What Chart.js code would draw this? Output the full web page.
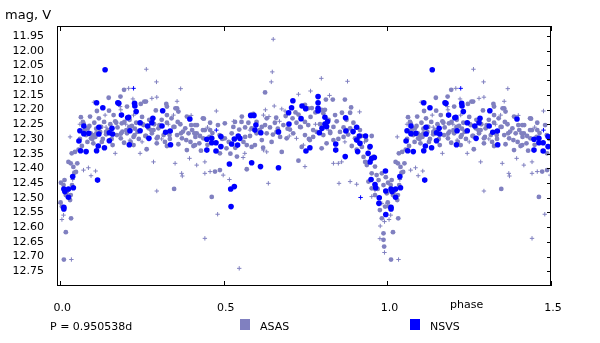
<!DOCTYPE html>
<html>
<head>
<meta charset="utf-8">
<title>Light curve</title>
<script src="https://cdn.jsdelivr.net/npm/chart.js@4.4.1/dist/chart.umd.min.js"></script>
<style>
  html, body { margin: 0; padding: 0; background: #fff; }
  #wrap { width: 600px; height: 343px; }
</style>
</head>
<body>
<div id="wrap"><canvas id="lightCurve" width="600" height="343"></canvas></div>
<script>
// folded light curve, [phase, mag V]; phases below 0.5 are repeated at phase + 1
const asasDots = [
  [0.001,12.516],[0.002,12.449],[0.005,12.530],[0.010,12.457],[0.011,12.710],[0.013,12.440],[0.017,12.491],[0.017,12.617],
  [0.020,12.480],[0.025,12.378],[0.030,12.508],[0.032,12.491],[0.032,12.383],[0.033,12.570],[0.035,12.349],[0.036,12.457],
  [0.040,12.395],[0.043,12.415],[0.045,12.344],[0.048,12.412],
  [0.052,12.383],[0.056,12.336],[0.060,12.300],[0.063,12.226],[0.066,12.324],[0.069,12.242],[0.071,12.247],[0.075,12.270],
  [0.079,12.287],[0.083,12.310],[0.084,12.264],[0.089,12.256],[0.091,12.224],[0.093,12.281],[0.094,12.298],[0.098,12.300],
  [0.099,12.287],
  [0.101,12.315],[0.104,12.245],[0.107,12.293],[0.110,12.265],[0.110,12.281],[0.112,12.205],[0.118,12.230],[0.122,12.259],
  [0.122,12.276],[0.125,12.259],[0.127,12.310],[0.130,12.300],[0.134,12.242],[0.140,12.284],[0.140,12.276],[0.145,12.270],
  [0.148,12.160],[0.149,12.204],[0.153,12.250],[0.157,12.300],[0.160,12.321],[0.163,12.219],[0.168,12.240],[0.171,12.245],
  [0.173,12.287],[0.175,12.261],[0.184,12.156],[0.185,12.298],[0.186,12.281],[0.188,12.247],[0.190,12.275],[0.195,12.133],
  [0.195,12.313],[0.196,12.242],
  [0.202,12.270],[0.204,12.281],[0.204,12.190],[0.211,12.259],[0.212,12.235],[0.215,12.310],[0.219,12.256],[0.224,12.293],
  [0.224,12.321],[0.227,12.287],[0.228,12.265],[0.232,12.245],[0.236,12.276],[0.240,12.300],[0.246,12.181],[0.250,12.225],
  [0.252,12.250],[0.255,12.253],[0.257,12.173],[0.260,12.290],[0.262,12.173],[0.262,12.290],[0.264,12.335],[0.270,12.264],
  [0.272,12.235],[0.278,12.270],[0.280,12.281],[0.285,12.270],[0.287,12.250],[0.292,12.203],[0.295,12.298],[0.295,12.315],
  [0.298,12.293],
  [0.300,12.264],[0.303,12.253],[0.310,12.235],[0.316,12.287],[0.320,12.310],[0.324,12.181],[0.326,12.190],[0.326,12.245],
  [0.326,12.219],[0.326,12.324],[0.331,12.276],[0.334,12.287],[0.335,12.300],[0.340,12.230],[0.346,12.259],[0.348,12.470],
  [0.349,12.259],[0.352,12.196],[0.357,12.287],[0.357,12.196],[0.359,12.242],[0.361,12.207],[0.361,12.318],[0.367,12.250],
  [0.369,12.281],[0.372,12.298],[0.375,12.275],[0.382,12.264],[0.385,12.304],[0.387,12.224],[0.387,12.338],[0.392,12.281],
  [0.398,12.310],
  [0.400,12.253],[0.403,12.270],[0.407,12.324],[0.410,12.281],[0.412,12.253],[0.412,12.321],[0.413,12.293],[0.417,12.281],
  [0.418,12.253],[0.425,12.315],[0.427,12.290],[0.430,12.340],[0.436,12.230],[0.436,12.270],[0.437,12.298],[0.439,12.231],
  [0.442,12.270],[0.450,12.320],[0.456,12.293],[0.458,12.245],[0.458,12.270],[0.463,12.497],[0.465,12.280],[0.473,12.411],
  [0.482,12.253],[0.487,12.287],[0.488,12.349],[0.488,12.406],[0.495,12.300],
  [0.503,12.247],[0.503,12.298],[0.508,12.332],[0.515,12.310],[0.520,12.350],[0.524,12.281],[0.529,12.259],[0.534,12.242],
  [0.535,12.330],[0.540,12.360],[0.547,12.268],[0.554,12.242],[0.555,12.224],[0.560,12.310],[0.565,12.261],[0.565,12.293],
  [0.570,12.321],[0.570,12.403],[0.575,12.245],[0.580,12.290],[0.585,12.327],[0.585,12.264],[0.590,12.215],[0.595,12.321],
  [0.600,12.242],[0.600,12.281],[0.610,12.270],[0.616,12.304],[0.616,12.259],[0.620,12.330],[0.626,12.142],[0.626,12.253],
  [0.631,12.230],[0.631,12.281],[0.641,12.261],[0.646,12.310],[0.650,12.285],[0.656,12.245],[0.660,12.228],[0.661,12.276],
  [0.665,12.265],[0.672,12.293],[0.677,12.344],[0.682,12.253],[0.689,12.222],[0.692,12.298],[0.695,12.265],
  [0.702,12.268],[0.710,12.230],[0.712,12.281],[0.719,12.210],[0.722,12.245],[0.728,12.217],[0.728,12.374],[0.733,12.259],
  [0.735,12.260],[0.738,12.327],[0.748,12.184],[0.748,12.242],[0.748,12.287],[0.758,12.196],[0.758,12.253],[0.760,12.300],
  [0.763,12.304],[0.765,12.225],[0.769,12.195],[0.773,12.270],[0.773,12.293],[0.780,12.210],[0.784,12.276],[0.794,12.250],
  [0.799,12.201],[0.799,12.332],
  [0.804,12.213],[0.804,12.287],[0.809,12.201],[0.812,12.166],[0.814,12.315],[0.820,12.235],[0.825,12.280],[0.825,12.276],
  [0.833,12.166],[0.835,12.259],[0.835,12.304],[0.840,12.219],[0.845,12.240],[0.850,12.300],[0.855,12.276],[0.861,12.211],
  [0.866,12.261],[0.866,12.293],[0.870,12.166],[0.875,12.235],[0.876,12.270],[0.880,12.285],[0.886,12.211],[0.886,12.264],
  [0.889,12.193],[0.891,12.324],[0.896,12.245],
  [0.901,12.298],[0.906,12.336],[0.910,12.300],[0.916,12.270],[0.920,12.290],[0.922,12.327],[0.927,12.361],[0.932,12.378],
  [0.935,12.304],[0.937,12.389],[0.942,12.445],[0.945,12.330],[0.952,12.290],[0.952,12.417],[0.952,12.468],[0.958,12.360],
  [0.962,12.394],[0.962,12.491],[0.967,12.423],[0.970,12.470],[0.973,12.440],[0.977,12.542],[0.983,12.417],[0.983,12.570],
  [0.988,12.457],[0.988,12.621],[0.988,12.643],[0.990,12.666],[0.993,12.530],[0.995,12.430],[0.998,12.485]
];

const asasCrosses = [
  [0.000,12.519],[0.005,12.574],[0.010,12.559],[0.030,12.293],[0.034,12.710],[0.038,12.438],[0.060,12.250],[0.071,12.406],
  [0.086,12.398],[0.094,12.425],[0.103,12.175],[0.108,12.409],[0.137,12.219],[0.140,12.260],[0.168,12.349],[0.183,12.190],
  [0.183,12.287],[0.185,12.201],[0.200,12.250],[0.209,12.128],[0.213,12.304],[0.222,12.164],[0.224,12.219],[0.244,12.349],
  [0.250,12.310],[0.263,12.063],[0.280,12.162],[0.285,12.378],[0.294,12.106],[0.295,12.158],[0.295,12.477],[0.310,12.300],
  [0.330,12.250],[0.346,12.219],[0.351,12.383],[0.357,12.172],[0.368,12.129],[0.371,12.417],[0.373,12.426],[0.395,12.366],
  [0.400,12.220],[0.417,12.389],[0.442,12.378],[0.442,12.417],[0.442,12.638],[0.450,12.260],[0.458,12.411],[0.477,12.205],
  [0.481,12.556],[0.498,12.423],[0.517,12.438],[0.530,12.240],[0.547,12.740],[0.559,12.363],[0.564,12.349],[0.580,12.270],
  [0.621,12.219],[0.621,12.338],[0.627,12.201],[0.631,12.344],[0.636,12.451],[0.638,12.224],[0.645,12.106],[0.648,12.072],
  [0.651,11.961],[0.654,12.188],[0.670,12.240],[0.677,12.198],[0.687,12.205],[0.700,12.290],[0.722,12.298],[0.728,12.148],
  [0.743,12.321],[0.748,12.394],[0.765,12.137],[0.780,12.250],[0.798,12.094],[0.820,12.270],[0.823,12.152],[0.835,12.383],
  [0.850,12.383],[0.852,12.451],[0.860,12.378],[0.870,12.310],[0.878,12.104],[0.886,12.445],[0.906,12.454],[0.915,12.208],
  [0.930,12.310],[0.952,12.496],[0.962,12.474],[0.977,12.639],[0.978,12.596],[0.983,12.519],[0.991,12.581],[0.991,12.686]
];

const nsvsDots = [
  [0.011,12.470],[0.011,12.532],[0.011,12.538],[0.014,12.479],[0.025,12.470],[0.025,12.498],[0.038,12.428],[0.040,12.466],
  [0.057,12.307],[0.060,12.272],[0.062,12.340],[0.072,12.282],[0.072,12.256],[0.079,12.343],[0.087,12.281],[0.111,12.340],
  [0.111,12.177],[0.114,12.440],[0.116,12.324],[0.118,12.283],[0.118,12.260],[0.130,12.194],[0.135,12.330],[0.137,12.065],
  [0.150,12.306],[0.150,12.279],[0.158,12.264],[0.160,12.283],[0.176,12.177],[0.179,12.179],[0.187,12.219],[0.206,12.228],
  [0.209,12.226],[0.211,12.320],[0.213,12.272],[0.227,12.179],[0.228,12.188],[0.232,12.207],[0.244,12.245],[0.244,12.272],
  [0.267,12.256],[0.271,12.298],[0.280,12.245],[0.283,12.230],[0.311,12.256],[0.313,12.204],[0.322,12.277],[0.336,12.273],
  [0.337,12.320],[0.396,12.232],[0.448,12.301],[0.448,12.338],[0.463,12.298],[0.463,12.313],[0.476,12.313],[0.476,12.341],
  [0.491,12.292],[0.491,12.326],
  [0.517,12.385],[0.521,12.470],[0.522,12.530],[0.524,12.317],[0.532,12.300],[0.532,12.462],[0.542,12.321],[0.544,12.290],
  [0.549,12.298],[0.582,12.220],[0.585,12.381],[0.592,12.220],[0.595,12.270],[0.598,12.253],[0.612,12.394],[0.613,12.279],
  [0.667,12.276],[0.667,12.398],[0.698,12.211],[0.699,12.249],[0.707,12.194],[0.711,12.170],[0.736,12.231],[0.739,12.188],
  [0.750,12.197],[0.751,12.341],[0.763,12.330],[0.788,12.156],[0.788,12.177],[0.788,12.196],[0.788,12.205],[0.792,12.279],
  [0.800,12.264],[0.809,12.226],[0.809,12.249],[0.814,12.258],[0.817,12.241],[0.842,12.317],[0.842,12.338],[0.871,12.360],
  [0.872,12.228],[0.873,12.273],[0.895,12.275],[0.906,12.260],[0.906,12.304],[0.909,12.343],[0.914,12.290],[0.916,12.315],
  [0.933,12.290],[0.941,12.349],[0.947,12.326],[0.947,12.378],[0.950,12.438],[0.952,12.366],[0.960,12.363],[0.962,12.455],
  [0.964,12.466],[0.974,12.519],[0.975,12.500],[0.994,12.409],[0.995,12.477],[0.995,12.557]
];

const nsvsCrosses = [[0.224,12.128],[0.477,12.270],[0.918,12.499]];

const phaseTicks = [0, 0.5, 1, 1.5];
const magTicks = [11.95, 12.00, 12.05, 12.10, 12.15, 12.20, 12.25, 12.30, 12.35, 12.40,
                  12.45, 12.50, 12.55, 12.60, 12.65, 12.70, 12.75];

const ASAS_COLOR = '#8080c0';
const NSVS_COLOR = '#0000ff';
const FONT = '"DejaVu Sans", Verdana, sans-serif';

// second cycle: repeat the first half at phase + 1
function fold(rows) {
  const pts = [];
  rows.forEach(([p, m]) => {
    pts.push({ x: p, y: m });
    if (p < 0.5) pts.push({ x: p + 1, y: m });
  });
  return pts;
}

// box, inward ticks, captions and legend
const framePlugin = {
  id: 'frame',
  afterDatasetsDraw(chart) {
    const { ctx, chartArea: a, scales: { x, y } } = chart;
    ctx.save();
    ctx.strokeStyle = '#000';
    ctx.lineWidth = 1;
    ctx.strokeRect(a.left + 0.5, a.top + 0.5, a.right - a.left - 1, a.bottom - a.top - 1);
    ctx.beginPath();
    phaseTicks.forEach(v => {
      const px = Math.round(x.getPixelForValue(v)) + 0.5;
      ctx.moveTo(px, a.bottom); ctx.lineTo(px, a.bottom - 5);
      ctx.moveTo(px, a.top); ctx.lineTo(px, a.top + 5);
    });
    magTicks.forEach(v => {
      const py = Math.round(y.getPixelForValue(v)) + 0.5;
      ctx.moveTo(a.right, py); ctx.lineTo(a.right - 4, py);
    });
    ctx.stroke();

    ctx.fillStyle = '#000';
    ctx.textBaseline = 'middle';
    ctx.font = '13px ' + FONT;
    ctx.fillText('mag, V', 5, 16);
    ctx.font = '11px ' + FONT;
    ctx.fillText('phase', 450, 305);
    ctx.fillText('P = 0.950538d', 50, 327);

    ctx.fillStyle = ASAS_COLOR;
    ctx.fillRect(240, 319, 10, 11);
    ctx.fillStyle = NSVS_COLOR;
    ctx.fillRect(410, 319, 10, 11);
    ctx.fillStyle = '#000';
    ctx.fillText('ASAS', 260, 327);
    ctx.fillText('NSVS', 430, 327);
    ctx.restore();
  }
};

new Chart(document.getElementById('lightCurve'), {
  type: 'scatter',
  data: {
    datasets: [
      { label: 'NSVS', data: fold(nsvsDots), pointStyle: 'circle', pointRadius: 2.8,
        backgroundColor: NSVS_COLOR, borderWidth: 0 },
      { label: 'NSVS', data: fold(nsvsCrosses), pointStyle: 'cross', pointRadius: 2.2,
        borderColor: NSVS_COLOR, borderWidth: 1 },
      { label: 'ASAS', data: fold(asasDots), pointStyle: 'circle', pointRadius: 2.4,
        backgroundColor: ASAS_COLOR, borderWidth: 0 },
      { label: 'ASAS', data: fold(asasCrosses), pointStyle: 'cross', pointRadius: 2.2,
        borderColor: ASAS_COLOR, borderWidth: 1 }
    ]
  },
  options: {
    responsive: false,
    animation: false,
    events: [],
    layout: { padding: { left: 0, top: 26, right: 49, bottom: 0 } },
    plugins: { legend: { display: false }, tooltip: { enabled: false } },
    scales: {
      x: {
        type: 'linear',
        min: -0.01,
        max: 1.5,
        grid: { display: false },
        border: { display: false },
        afterBuildTicks: s => { s.ticks = phaseTicks.map(v => ({ value: v })); },
        afterFit: s => { s.height = 57; },
        ticks: {
          color: '#000',
          font: { family: FONT, size: 11 },
          padding: 8,
          labelOffset: 2,
          maxRotation: 0,
          callback: v => v.toFixed(1)
        }
      },
      y: {
        type: 'linear',
        reverse: true,
        min: 11.916,
        max: 12.80,
        grid: { display: false },
        border: { display: false },
        afterBuildTicks: s => { s.ticks = magTicks.map(v => ({ value: v })); },
        afterFit: s => { s.width = 57; },
        ticks: {
          color: '#000',
          font: { family: FONT, size: 11 },
          padding: 5,
          callback: v => v.toFixed(2)
        }
      }
    }
  },
  plugins: [framePlugin]
});
</script>
</body>
</html>
